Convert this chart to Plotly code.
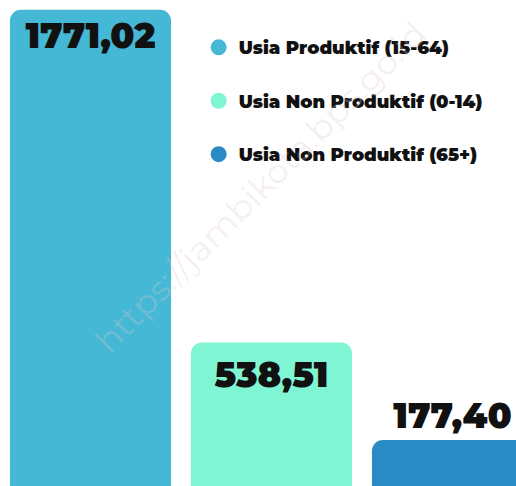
import plotly.graph_objects as go

categories = ["Usia Produktif (15-64)", "Usia Non Produktif (0-14)", "Usia Non Produktif (65+)"]
values = [1771.02, 538.51, 177.40]
labels = ["1771,02", "538,51", "177,40"]
colors = ["#45B8D6", "#80F5D4", "#2A8BC4"]
text_positions = ["inside", "inside", "outside"]

FONT = "Montserrat, Lato, Roboto, sans-serif"

fig = go.Figure()
fig.add_trace(go.Bar(
    x=list(range(len(categories))),
    y=values,
    marker=dict(color=colors, line=dict(width=0)),
    width=0.89,
    text=labels,
    textposition=text_positions,
    insidetextanchor="end",
    textangle=0,
    constraintext="none",
    cliponaxis=False,
    textfont=dict(family=FONT, size=35, color="#111111", weight=900),
    showlegend=False,
    hoverinfo="skip",
))

for i, (name, col) in enumerate(zip(categories, colors)):
    fig.add_trace(go.Scatter(
        x=[None], y=[None], mode="markers", name=name,
        legendgroup=f"g{i}",
        marker=dict(symbol="circle", size=17, color=col),
    ))

fig.add_annotation(
    text="https://jambikota.bps.go.id", xref="paper", yref="paper",
    x=0.505, y=0.98, showarrow=False, textangle=-45,
    font=dict(family=FONT, size=34, color="rgba(225,200,200,0.28)"),
)

fig.update_layout(
    width=516, height=486,
    margin=dict(l=0, r=0, t=0, b=0),
    paper_bgcolor="white", plot_bgcolor="white",
    barcornerradius=11,
    xaxis=dict(range=[-0.5, 2.351], visible=False, fixedrange=True),
    yaxis=dict(range=[7, 1807], visible=False, fixedrange=True),
    legend=dict(
        x=0.385, y=0.94, xanchor="left", yanchor="top",
        font=dict(family=FONT, size=18, color="#111111", weight=900),
        tracegroupgap=27, itemwidth=30, bgcolor="rgba(0,0,0,0)",
    ),
    showlegend=True,
)

fig.write_html(
    "out.html",
    config={"displayModeBar": False},
    post_script="document.body.style.margin='0';document.body.style.padding='0';document.body.style.overflow='hidden';",
)
